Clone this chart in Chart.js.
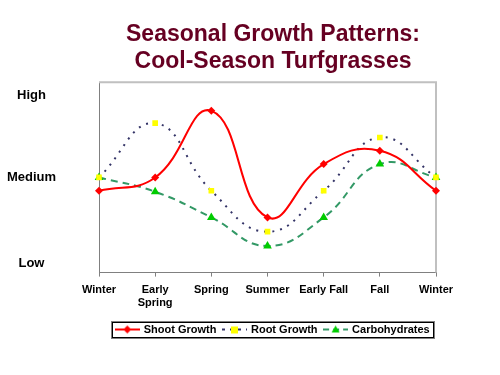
<!DOCTYPE html>
<html>
<head>
<meta charset="utf-8">
<script src="https://cdn.jsdelivr.net/npm/chart.js@4"></script>
<style>
  html, body { margin: 0; padding: 0; background: #fff; }
  #wrap { width: 500px; height: 375px; position: relative; }
</style>
</head>
<body>
<div id="wrap"><canvas id="c"></canvas></div>
<script>
var seasons = ['Winter', ['Early', 'Spring'], 'Spring', 'Summer', 'Early Fall', 'Fall', 'Winter'];
var shootGrowth = [43, 50, 85, 29, 57, 64, 43];
var rootGrowth = [50, 78.5, 43, 21.5, 43, 71, 50];
var carbohydrates = [50, 42.5, 29, 14, 29, 57, 50];
var levelTicks = [5, 50, 93];
var levelNames = ['Low', 'Medium', 'High'];

var red = '#ff0000';
var navy = '#333366';
var green = '#339966';
var yellow = '#ffff00';
var lime = '#00cc00';
var maroon = '#660022';

// small canvas for the legend: line segment with the marker in the middle
function legendSwatch(lineColor, dash, marker, markerColor) {
  var cv = document.createElement('canvas');
  cv.width = 25; cv.height = 10;
  var g = cv.getContext('2d');
  g.strokeStyle = lineColor; g.lineWidth = 2; g.setLineDash(dash);
  g.beginPath(); g.moveTo(0, 5); g.lineTo(25, 5); g.stroke();
  g.fillStyle = markerColor;
  g.beginPath();
  if (marker === 'diamond') { g.moveTo(12.5, 1); g.lineTo(16.5, 5); g.lineTo(12.5, 9); g.lineTo(8.5, 5); }
  else if (marker === 'square') { g.rect(9, 2, 7, 7); }
  else { g.moveTo(12.5, 1); g.lineTo(16.5, 8); g.lineTo(8.5, 8); }
  g.closePath(); g.fill();
  return cv;
}

var swatches = [
  legendSwatch(red, [], 'diamond', red),
  legendSwatch(navy, [3, 5], 'square', yellow),
  legendSwatch(green, [6, 4], 'triangle', lime)
];

var legendFrame = {
  id: 'legendFrame',
  afterDraw: function(chart) {
    var boxes = chart.legend.legendHitBoxes;
    if (!boxes || !boxes.length) return;
    var x0 = boxes[0].left, x1 = boxes[boxes.length - 1].left + boxes[boxes.length - 1].width;
    var y0 = boxes[0].top, h = boxes[0].height;
    var ctx = chart.ctx;
    ctx.save();
    ctx.strokeStyle = '#808080'; ctx.lineWidth = 1;
    ctx.strokeRect(Math.round(x0 - 5) + 0.5, Math.round(y0 - 3) + 0.5, Math.round(x1 - x0 + 10), Math.round(h + 6));
    ctx.strokeStyle = '#000';
    ctx.strokeRect(Math.round(x0 - 4) + 0.5, Math.round(y0 - 2) + 0.5, Math.round(x1 - x0 + 8), Math.round(h + 4));
    ctx.restore();
  }
};

var plotFrame = {
  id: 'plotFrame',
  beforeDatasetsDraw: function(chart) {
    var a = chart.chartArea, ctx = chart.ctx;
    ctx.save();
    ctx.strokeStyle = '#c0c0c0'; ctx.lineWidth = 2;
    ctx.beginPath();
    ctx.moveTo(a.left, a.top); ctx.lineTo(a.right, a.top); ctx.lineTo(a.right, a.bottom);
    ctx.stroke();
    ctx.restore();
  }
};

new Chart(document.getElementById('c').getContext('2d'), {
  type: 'line',
  data: {
    labels: seasons,
    datasets: [
      { label: 'Shoot Growth', data: shootGrowth, borderColor: red, backgroundColor: red, borderWidth: 2,
        tension: 0.45, pointStyle: 'rectRot', pointRadius: 4, pointBackgroundColor: red, pointBorderWidth: 0 },
      { label: 'Root Growth', data: rootGrowth, borderColor: navy, backgroundColor: yellow, borderWidth: 2, borderDash: [2, 6],
        tension: 0.45, pointStyle: 'rect', pointRadius: 4, pointBackgroundColor: yellow, pointBorderWidth: 0 },
      { label: 'Carbohydrates', data: carbohydrates, borderColor: green, backgroundColor: lime, borderWidth: 2, borderDash: [7, 5],
        tension: 0.45, pointStyle: 'triangle', pointRadius: 5, pointBackgroundColor: lime, pointBorderWidth: 0 }
    ]
  },
  options: {
    responsive: true, maintainAspectRatio: false, animation: false,
    // negative right padding widens the layout so the title centres over the plot like the original
    layout: { padding: { left: 0, right: -46, top: 0, bottom: 30 } },
    plugins: {
      title: {
        display: true,
        text: ['Seasonal Growth Patterns:', 'Cool-Season Turfgrasses'],
        color: maroon,
        font: { family: 'Liberation Sans', size: 23, weight: 'bold', lineHeight: 1.18 },
        padding: { top: 21, bottom: 7 }
      },
      legend: {
        position: 'bottom',
        labels: {
          color: '#000', usePointStyle: true, pointStyleWidth: 22, boxHeight: 10, padding: 7,
          font: { family: 'Liberation Sans', size: 11, weight: 'bold' },
          generateLabels: function(chart) {
            return chart.data.datasets.map(function(ds, i) {
              return { text: ds.label, pointStyle: swatches[i], fillStyle: ds.borderColor, strokeStyle: ds.borderColor,
                lineWidth: 0, datasetIndex: i, fontColor: '#000' };
            });
          }
        }
      },
      tooltip: { enabled: false }
    },
    scales: {
      x: {
        offset: false,
        grid: { display: true, drawOnChartArea: false, drawTicks: true, tickLength: 4, tickColor: '#808080' },
        border: { display: true, color: '#808080', width: 1 },
        ticks: { color: '#000', font: { family: 'Liberation Sans', size: 11, weight: 'bold' }, padding: 7, maxRotation: 0, autoSkip: false }
      },
      y: {
        min: 0, max: 100,
        grid: { display: false },
        border: { display: true, color: '#808080', width: 1 },
        afterBuildTicks: function(scale) { scale.ticks = levelTicks.map(function(v) { return { value: v }; }); },
        afterFit: function(scale) { scale.width = 99; },
        ticks: {
          color: '#000', crossAlign: 'center', padding: 35,
          font: { family: 'Liberation Sans', size: 13, weight: 'bold' },
          callback: function(v) { var i = levelTicks.indexOf(v); return i >= 0 ? levelNames[i] : ''; }
        }
      },
      y2: {
        position: 'right', display: true, min: 0, max: 100,
        grid: { display: false }, border: { display: false },
        ticks: { display: false },
        afterFit: function(scale) { scale.width = 110; }
      }
    }
  },
  plugins: [plotFrame, legendFrame]
});
</script>
</body>
</html>
